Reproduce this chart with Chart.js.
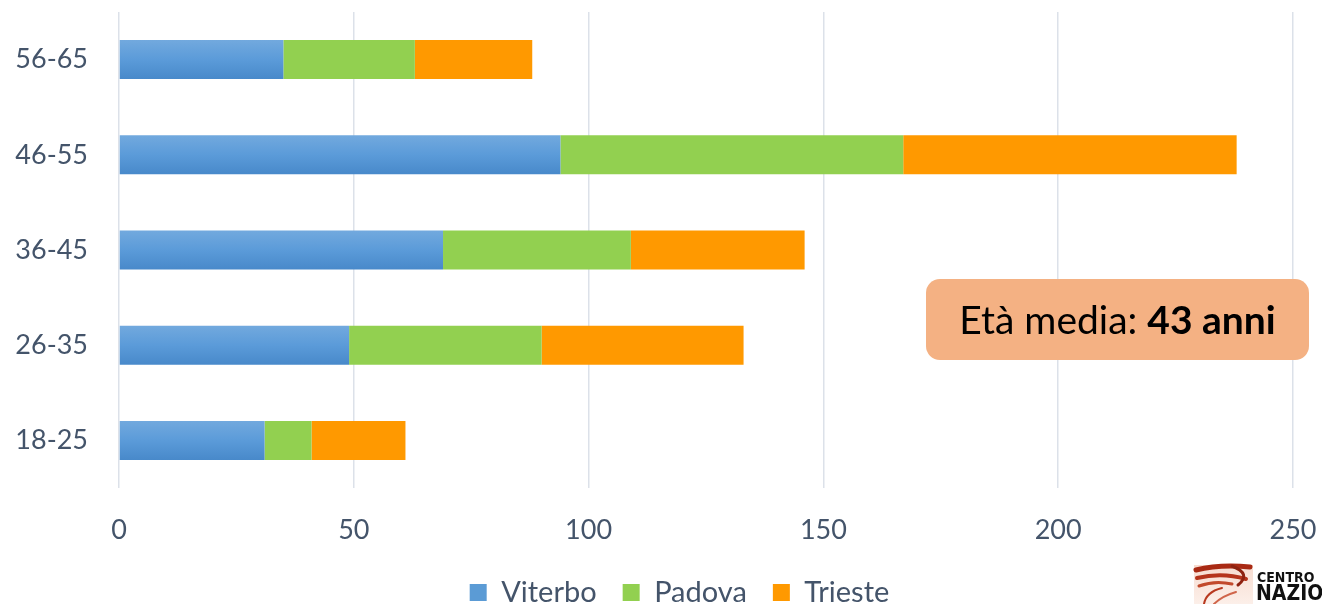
<!DOCTYPE html>
<html>
<head>
<meta charset="utf-8">
<script src="https://cdn.jsdelivr.net/npm/chart.js@4.4.1/dist/chart.umd.min.js"></script>
<style>
  html, body { margin: 0; padding: 0; background: #fff; }
  #wrap { width: 1322px; height: 604px; }
</style>
</head>
<body>
<div id="wrap"><canvas id="myChart" width="1322" height="604"></canvas></div>
<script>
// categories (top to bottom)
var ageGroups = ['56-65', '46-55', '36-45', '26-35', '18-25'];
// series values
var viterbo = [35, 94, 69, 49, 31];
var padova = [28, 73, 40, 41, 10];
var trieste = [25, 71, 37, 43, 20];
// x axis ticks
var xTicks = [0, 50, 100, 150, 200, 250];
var note = ['Età media: ', '43 anni'];

var textColor = '#44546A';
var fontFamily = 'Lato, "Open Sans", sans-serif';

// blue bars use a vertical gradient, per bar
var gradientBars = {
    id: 'gradientBars',
    beforeDatasetDraw: function (chart, args) {
        if (args.index !== 0) return;
        var ctx = chart.ctx;
        args.meta.data.forEach(function (bar) {
            var h = bar.height;
            var g = ctx.createLinearGradient(0, bar.y - h / 2, 0, bar.y + h / 2);
            g.addColorStop(0, '#72A9DE');
            g.addColorStop(0.5, '#5B9BD9');
            g.addColorStop(1, '#4889CA');
            bar.options.backgroundColor = g;
        });
    }
};

// legend: keep wide item spacing but a fixed, short height
var legendHeight = {
    id: 'legendHeight',
    beforeLayout: function (chart) {
        var lg = chart.legend;
        if (lg && !lg._fixed) {
            var fit = lg.fit;
            lg.fit = function () {
                fit.call(this);
                this.height = 52;
            };
            lg._fixed = true;
        }
    },
    afterLayout: function (chart) {
        // original legend sits a bit right of centre
        if (chart.legend) {
            chart.legend.left += 33;
            chart.legend.right += 33;
        }
    }
};

// annotation box + logo
var extras = {
    id: 'extras',
    afterDraw: function (chart) {
        var ctx = chart.ctx;
        ctx.save();
        // box
        var bx = 926, by = 279, bw = 383, bh = 81, r = 14;
        ctx.fillStyle = '#F4B183';
        ctx.beginPath();
        ctx.roundRect(bx, by, bw, bh, r);
        ctx.fill();

        var size = 39;
        ctx.textBaseline = 'middle';
        ctx.font = size + 'px ' + fontFamily;
        var w1 = ctx.measureText(note[0]).width;
        ctx.font = 'bold ' + size + 'px ' + fontFamily;
        var w2 = ctx.measureText(note[1]).width;
        var sx = bx + bw / 2 - (w1 + w2) / 2;
        var cy = by + bh / 2 + 2;
        ctx.fillStyle = '#000';
        ctx.font = size + 'px ' + fontFamily;
        ctx.fillText(note[0], sx, cy);
        ctx.font = 'bold ' + size + 'px ' + fontFamily;
        ctx.fillText(note[1], sx + w1, cy);

        // logo (cut at the edge)
        var bg = ctx.createLinearGradient(0, 565, 0, 604);
        bg.addColorStop(0, '#F7DCD0');
        bg.addColorStop(1, '#FCEFE9');
        ctx.fillStyle = bg;
        ctx.fillRect(1194, 565, 59, 39);
        ctx.lineCap = 'round';
        var strokes = [
            ['#A92A14', 5, [[1196, 570], [1220, 564], [1250, 567]]],
            ['#B5341C', 4, [[1197, 578], [1222, 572], [1246, 579]]],
            ['#8E2210', 3, [[1232, 566], [1252, 574], [1238, 585]]],
            ['#C24A2C', 3, [[1199, 586], [1215, 580], [1232, 584]]],
            ['#B8391F', 2, [[1204, 604], [1206, 592], [1222, 588]]],
            ['#D0654A', 2, [[1214, 604], [1222, 596], [1236, 592]]]
        ];
        strokes.forEach(function (s) {
            ctx.strokeStyle = s[0];
            ctx.lineWidth = s[1];
            ctx.beginPath();
            ctx.moveTo(s[2][0][0], s[2][0][1]);
            ctx.quadraticCurveTo(s[2][1][0], s[2][1][1], s[2][2][0], s[2][2][1]);
            ctx.stroke();
        });
        ctx.fillStyle = '#111';
        ctx.textBaseline = 'alphabetic';
        ctx.font = 'bold 14px "Liberation Sans Narrow", "DejaVu Sans Condensed", sans-serif';
        ctx.fillText('CENTRO', 1257, 582);
        ctx.font = 'bold 21px "Liberation Sans Narrow", "DejaVu Sans Condensed", sans-serif';
        ctx.fillText('NAZIONALE', 1256, 600);
        ctx.restore();
    }
};

var ctx = document.getElementById('myChart').getContext('2d');
var myChart = new Chart(ctx, {
    type: 'bar',
    data: {
        labels: ageGroups,
        datasets: [
            { label: 'Viterbo', data: viterbo, backgroundColor: function () { return '#5B9BD5'; } },
            { label: 'Padova', data: padova, backgroundColor: '#92D050' },
            { label: 'Trieste', data: trieste, backgroundColor: '#FF9900' }
        ]
    },
    options: {
        indexAxis: 'y',
        responsive: false,
        animation: false,
        layout: { padding: { top: 12, right: 29, left: 0, bottom: 0 } },
        datasets: {
            bar: { categoryPercentage: 1, barPercentage: 0.41, borderWidth: 0 }
        },
        scales: {
            x: {
                stacked: true,
                min: 0,
                max: 250,
                afterBuildTicks: function (scale) {
                    scale.ticks = xTicks.map(function (v) { return { value: v }; });
                },
                afterFit: function (scale) {
                    scale.height = 64;
                    scale.paddingLeft = 0;
                    scale.paddingRight = 0;
                },
                border: { display: false },
                grid: { color: '#DCE1E9', lineWidth: 1.5, drawTicks: false },
                ticks: { color: textColor, padding: 26, font: { family: fontFamily, size: 27 } }
            },
            y: {
                stacked: true,
                afterFit: function (scale) {
                    scale.width = 119;
                    scale.paddingTop = 0;
                    scale.paddingBottom = 0;
                },
                border: { display: false },
                grid: { display: false, drawTicks: false },
                ticks: { color: textColor, padding: 31, font: { family: fontFamily, size: 27 } }
            }
        },
        plugins: {
            legend: {
                position: 'bottom',
                labels: {
                    color: textColor,
                    boxWidth: 17,
                    boxHeight: 17,
                    padding: 26,
                    font: { family: fontFamily, size: 29 },
                    generateLabels: function (chart) {
                        var items = Chart.defaults.plugins.legend.labels.generateLabels(chart);
                        items[0].fillStyle = '#5B9BD5';
                        items.forEach(function (it) { it.lineWidth = 0; it.strokeStyle = 'rgba(0,0,0,0)'; });
                        return items;
                    }
                }
            },
            tooltip: { enabled: false }
        }
    },
    plugins: [gradientBars, legendHeight, extras]
});
</script>
</body>
</html>
